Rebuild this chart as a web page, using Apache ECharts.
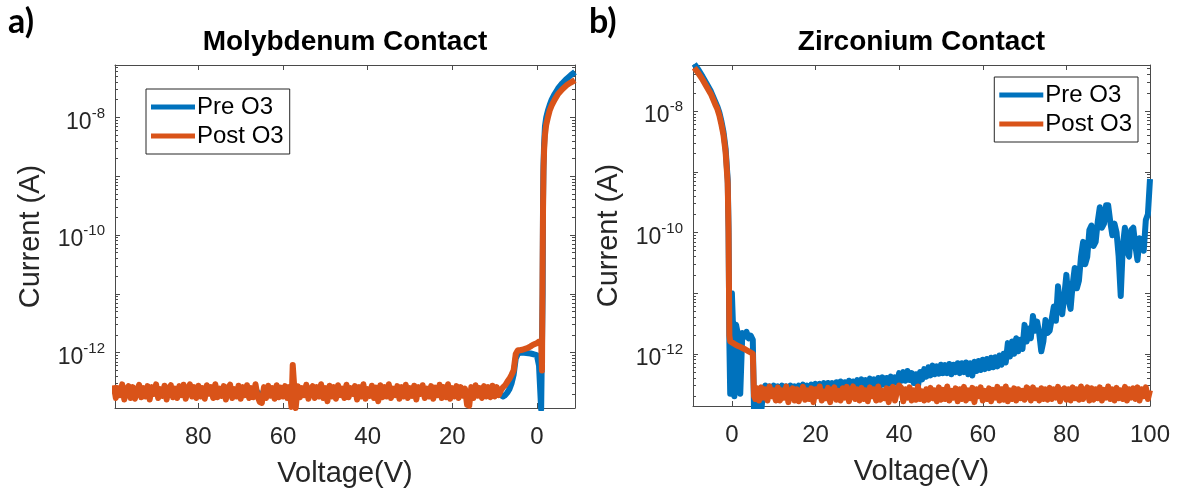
<!DOCTYPE html>
<html>
<head>
<meta charset="utf-8">
<script src="https://cdn.jsdelivr.net/npm/echarts@6/dist/echarts.min.js"></script>
<style>
  html, body { margin: 0; padding: 0; background: #fff; }
  #chart { width: 1178px; height: 493px; }
</style>
</head>
<body>
<div id="chart"></div>
<script>
// currents are in pA, voltages in V

// a) Molybdenum contact, sweep 100 -> -9 V
const moVolt = [100, 99.5, 99, 98.5, 98, 97.5, 97, 96.5, 96, 95.5,
  95, 94.5, 94, 93.5, 93, 92.5, 92, 91.5, 91, 90.5,
  90, 89.5, 89, 88.5, 88, 87.5, 87, 86.5, 86, 85.5,
  85, 84.5, 84, 83.5, 83, 82.5, 82, 81.5, 81, 80.5,
  80, 79.5, 79, 78.5, 78, 77.5, 77, 76.5, 76, 75.5,
  75, 74.5, 74, 73.5, 73, 72.5, 72, 71.5, 71, 70.5,
  70, 69.5, 69, 68.5, 68, 67.5, 67, 66.5, 66, 65.5,
  65, 64.5, 64, 63.5, 63, 62.5, 62, 61.5, 61, 60.5,
  60, 59.5, 59, 58.5, 58, 57.7, 57.3, 57, 56.5, 56,
  55.5, 55, 54.5, 54, 53.5, 53, 52.5, 52, 51.5, 51,
  50.5, 50, 49.5, 49, 48.5, 48, 47.5, 47, 46.5, 46,
  45.5, 45, 44.5, 44, 43.5, 43, 42.5, 42, 41.5, 41,
  40.5, 40, 39.5, 39, 38.5, 38, 37.5, 37, 36.5, 36,
  35.5, 35, 34.5, 34, 33.5, 33, 32.5, 32, 31.5, 31,
  30.5, 30, 29.5, 29, 28.5, 28, 27.5, 27, 26.5, 26,
  25.5, 25, 24.5, 24, 23.5, 23, 22.5, 22, 21.5, 21,
  20.5, 20, 19.5, 19, 18.5, 18, 17.5, 17, 16.5, 16,
  15.5, 15, 14.5, 14, 13.5, 13, 12.5, 12, 11.5, 11,
  10.5, 10, 9.5, 9, 8.5, 8, 7.5, 7, 6.5, 6,
  5.5, 5, 4.5, 4, 3.5, 3, 2.5, 2, 1.5, 1,
  0.5, 0, -0.5, -1, -1.2, -1.35, -1.45, -1.55, -1.7, -1.9,
  -2.2, -2.6, -3, -3.5, -4.2, -5, -6, -7, -8, -9]

const moPre = [0.24, 0.2, 0.23, 0.21, 0.24, 0.19, 0.23, 0.22, 0.2, 0.24,
  0.2, 0.23, 0.24, 0.2, 0.22, 0.21, 0.24, 0.19, 0.23, 0.21,
  0.24, 0.2, 0.22, 0.21, 0.24, 0.19, 0.23, 0.24, 0.2, 0.22,
  0.2, 0.24, 0.21, 0.23, 0.19, 0.22, 0.24, 0.2, 0.23, 0.2,
  0.24, 0.2, 0.22, 0.19, 0.24, 0.21, 0.23, 0.2, 0.24, 0.2,
  0.22, 0.21, 0.24, 0.19, 0.23, 0.24, 0.2, 0.22, 0.21, 0.24,
  0.2, 0.23, 0.21, 0.24, 0.2, 0.22, 0.2, 0.24, 0.21, 0.19,
  0.19, 0.23, 0.2, 0.24, 0.21, 0.22, 0.2, 0.24, 0.2, 0.23,
  0.21, 0.24, 0.2, 0.23, 0.2, 0.22, 0.22, 0.2, 0.24, 0.2,
  0.22, 0.21, 0.24, 0.2, 0.22, 0.24, 0.2, 0.23, 0.21, 0.24,
  0.2, 0.22, 0.19, 0.24, 0.21, 0.23, 0.2, 0.24, 0.21, 0.22,
  0.2, 0.24, 0.2, 0.22, 0.21, 0.24, 0.19, 0.23, 0.21, 0.24,
  0.2, 0.22, 0.21, 0.24, 0.2, 0.23, 0.19, 0.24, 0.2, 0.23,
  0.21, 0.24, 0.2, 0.22, 0.21, 0.24, 0.2, 0.23, 0.21, 0.24,
  0.2, 0.22, 0.21, 0.24, 0.19, 0.23, 0.21, 0.24, 0.2, 0.22,
  0.21, 0.24, 0.2, 0.23, 0.21, 0.24, 0.2, 0.23, 0.2, 0.24,
  0.2, 0.22, 0.21, 0.24, 0.2, 0.23, 0.21, 0.22, 0.2, 0.19,
  0.23, 0.2, 0.24, 0.21, 0.22, 0.2, 0.24, 0.21, 0.23, 0.2,
  0.24, 0.2, 0.23, 0.2, 0.19, 0.18, 0.19, 0.21, 0.24, 0.3,
  0.42, 0.8, 0.95, 1.0, 1.0, 1.0, 0.99, 0.98, 0.97, 0.95,
  0.93, 0.9, 0.6, 0.11, 0.11, 10, 400, 1500, 3500, 7000,
  10000, 13000, 16000, 20000, 25000, 31000, 38000, 45000, 52000, 59000]

const moPost = [0.28, 0.17, 0.25, 0.19, 0.29, 0.16, 0.24, 0.27, 0.17, 0.26,
  0.165, 0.23, 0.285, 0.175, 0.25, 0.18, 0.27, 0.16, 0.26, 0.2,
  0.29, 0.17, 0.24, 0.185, 0.275, 0.16, 0.25, 0.28, 0.175, 0.245,
  0.17, 0.27, 0.19, 0.285, 0.165, 0.235, 0.29, 0.18, 0.26, 0.17,
  0.275, 0.18, 0.25, 0.165, 0.28, 0.2, 0.26, 0.17, 0.29, 0.175,
  0.245, 0.185, 0.27, 0.16, 0.255, 0.285, 0.17, 0.24, 0.18, 0.275,
  0.165, 0.26, 0.19, 0.28, 0.17, 0.25, 0.175, 0.29, 0.18, 0.145,
  0.14, 0.26, 0.17, 0.275, 0.185, 0.25, 0.165, 0.28, 0.175, 0.255,
  0.18, 0.27, 0.17, 0.26, 0.12, 0.62, 0.58, 0.115, 0.27, 0.175,
  0.25, 0.19, 0.285, 0.165, 0.24, 0.27, 0.17, 0.26, 0.18, 0.29,
  0.17, 0.25, 0.15, 0.275, 0.18, 0.26, 0.165, 0.28, 0.19, 0.245,
  0.17, 0.285, 0.175, 0.25, 0.2, 0.27, 0.16, 0.26, 0.18, 0.29,
  0.165, 0.24, 0.185, 0.275, 0.17, 0.255, 0.15, 0.28, 0.175, 0.26,
  0.18, 0.29, 0.17, 0.245, 0.19, 0.27, 0.165, 0.26, 0.18, 0.285,
  0.17, 0.25, 0.185, 0.275, 0.16, 0.26, 0.2, 0.28, 0.17, 0.245,
  0.18, 0.27, 0.165, 0.255, 0.19, 0.285, 0.17, 0.26, 0.175, 0.29,
  0.165, 0.25, 0.18, 0.27, 0.17, 0.26, 0.185, 0.245, 0.13, 0.125,
  0.26, 0.17, 0.28, 0.185, 0.25, 0.17, 0.27, 0.18, 0.26, 0.175,
  0.275, 0.18, 0.26, 0.19, 0.23, 0.26, 0.28, 0.32, 0.36, 0.42,
  0.5, 0.95, 1.1, 1.1, 1.12, 1.15, 1.18, 1.22, 1.28, 1.35,
  1.4, 1.45, 1.55, 1.6, 0.5, 30, 300, 1200, 2800, 5000,
  7500, 10000, 13000, 16000, 20000, 25000, 30000, 35000, 39000, 43000]

// b) Zirconium contact, sweep -9 -> 100 V
const zrVolt = [-9, -8, -7, -6, -5, -4, -3.5, -3, -2.5, -2,
  -1.5, -1, -0.8, -0.6, -0.4, -0.2, 0, 0.3, 0.6, 1,
  1.5, 2, 2.5, 3, 3.5, 4, 4.5, 5, 5.3, 5.6,
  6, 6.5, 7, 7.5, 8, 8.5, 9, 9.5, 10, 10.5,
  11, 11.5, 12, 12.5, 13, 13.5, 14, 14.5, 15, 15.5,
  16, 16.5, 17, 17.5, 18, 18.5, 19, 19.5, 20, 20.5,
  21, 21.5, 22, 22.5, 23, 23.5, 24, 24.5, 25, 25.5,
  26, 26.5, 27, 27.5, 28, 28.5, 29, 29.5, 30, 30.5,
  31, 31.5, 32, 32.5, 33, 33.5, 34, 34.5, 35, 35.5,
  36, 36.5, 37, 37.5, 38, 38.5, 39, 39.5, 40, 40.5,
  41, 41.5, 42, 42.5, 43, 43.5, 44, 44.5, 45, 45.5,
  46, 46.5, 47, 47.5, 48, 48.5, 49, 49.5, 50, 50.5,
  51, 51.5, 52, 52.5, 53, 53.5, 54, 54.5, 55, 55.5,
  56, 56.5, 57, 57.5, 58, 58.5, 59, 59.5, 60, 60.5,
  61, 61.5, 62, 62.5, 63, 63.5, 64, 64.5, 65, 65.5,
  66, 66.5, 67, 67.5, 68, 68.5, 69, 69.5, 70, 70.5,
  71, 71.5, 72, 72.5, 73, 73.5, 74, 74.5, 75, 75.5,
  76, 76.5, 77, 77.5, 78, 78.5, 79, 79.5, 80, 80.5,
  81, 81.5, 82, 82.5, 83, 83.5, 84, 84.5, 85, 85.5,
  86, 86.5, 87, 87.5, 88, 88.5, 89, 89.5, 90, 90.5,
  91, 91.5, 92, 92.5, 93, 93.5, 94, 94.5, 95, 95.5,
  96, 96.5, 97, 97.5, 98, 98.5, 99, 99.5, 100]

const zrPre = [60000, 48000, 37000, 28000, 21000, 14500, 12000, 9500, 6800, 4500,
  2400, 750, 120, 1.5, 0.22, 1.3, 10, 2.5, 0.2, 3.0,
  2.0, 0.22, 2.2, 1.9, 2.3, 1.8, 2.0, 1.7, 0.11, 0.25,
  0.11, 0.12, 0.11, 0.25, 0.3, 0.22, 0.29, 0.23, 0.3, 0.22,
  0.29, 0.23, 0.3, 0.22, 0.29, 0.24, 0.3, 0.22, 0.29, 0.23,
  0.3, 0.24, 0.31, 0.23, 0.3, 0.24, 0.31, 0.23, 0.32, 0.25,
  0.32, 0.25, 0.33, 0.24, 0.33, 0.25, 0.33, 0.26, 0.34, 0.26,
  0.35, 0.26, 0.34, 0.27, 0.36, 0.27, 0.35, 0.28, 0.37, 0.28,
  0.38, 0.28, 0.37, 0.29, 0.39, 0.29, 0.38, 0.3, 0.4, 0.3,
  0.41, 0.31, 0.4, 0.32, 0.42, 0.32, 0.41, 0.33, 0.48, 0.36,
  0.5, 0.36, 0.52, 0.37, 0.48, 0.33, 0.46, 0.29, 0.5, 0.38,
  0.56, 0.42, 0.6, 0.44, 0.64, 0.46, 0.62, 0.47, 0.66, 0.48,
  0.65, 0.48, 0.68, 0.46, 0.66, 0.5, 0.7, 0.48, 0.7, 0.5,
  0.72, 0.46, 0.7, 0.44, 0.74, 0.52, 0.76, 0.54, 0.8, 0.56,
  0.82, 0.58, 0.86, 0.6, 0.88, 0.62, 0.94, 0.66, 1.0, 0.72,
  1.5, 0.9, 1.6, 1.0, 1.8, 1.1, 1.7, 1.2, 3.0, 1.6,
  2.6, 1.8, 4.2, 2.4, 3.4, 2.2, 1.1, 1.6, 3.6, 2.2,
  2.4, 3.8, 6.0, 3.5, 13, 6.0, 4.5, 9.0, 20, 8.0,
  5.5, 14, 26, 12, 16, 40, 70, 30, 40, 110,
  130, 60, 70, 150, 260, 120, 140, 280, 280, 150,
  90, 140, 100, 40, 9.0, 60, 120, 50, 40, 110,
  120, 60, 35, 80, 60, 50, 160, 200, 760]

const zrPost = [52000, 42000, 33000, 25000, 19000, 13000, 11000, 8500, 6000, 4000,
  2100, 650, 100, 2.0, 1.6, 1.58, 1.55, 1.5, 1.45, 1.4,
  1.35, 1.3, 1.25, 1.2, 1.15, 1.1, 1.05, 1.0, 0.2, 0.18,
  0.27, 0.17, 0.28, 0.19, 0.26, 0.17, 0.29, 0.2, 0.25, 0.17,
  0.28, 0.17, 0.25, 0.19, 0.29, 0.16, 0.24, 0.27, 0.17, 0.26,
  0.165, 0.23, 0.285, 0.175, 0.25, 0.18, 0.27, 0.16, 0.26, 0.2,
  0.29, 0.17, 0.24, 0.185, 0.275, 0.16, 0.25, 0.28, 0.175, 0.245,
  0.17, 0.27, 0.19, 0.285, 0.165, 0.235, 0.29, 0.18, 0.26, 0.17,
  0.275, 0.18, 0.25, 0.165, 0.28, 0.2, 0.26, 0.17, 0.29, 0.175,
  0.245, 0.185, 0.27, 0.16, 0.255, 0.285, 0.17, 0.24, 0.3, 0.275,
  0.165, 0.26, 0.19, 0.28, 0.17, 0.25, 0.175, 0.29, 0.18, 0.24,
  0.17, 0.26, 0.175, 0.275, 0.185, 0.25, 0.165, 0.28, 0.175, 0.255,
  0.18, 0.29, 0.17, 0.245, 0.19, 0.27, 0.165, 0.26, 0.18, 0.285,
  0.17, 0.25, 0.185, 0.275, 0.16, 0.26, 0.2, 0.28, 0.17, 0.245,
  0.18, 0.27, 0.165, 0.255, 0.19, 0.285, 0.17, 0.26, 0.175, 0.29,
  0.165, 0.25, 0.18, 0.27, 0.17, 0.26, 0.185, 0.245, 0.175, 0.28,
  0.26, 0.17, 0.28, 0.185, 0.25, 0.17, 0.27, 0.18, 0.26, 0.175,
  0.275, 0.18, 0.26, 0.19, 0.285, 0.165, 0.25, 0.27, 0.175, 0.26,
  0.17, 0.28, 0.185, 0.26, 0.175, 0.29, 0.18, 0.25, 0.28, 0.17,
  0.27, 0.175, 0.26, 0.185, 0.28, 0.17, 0.255, 0.19, 0.29, 0.18,
  0.26, 0.17, 0.275, 0.185, 0.25, 0.18, 0.285, 0.17, 0.26, 0.19,
  0.27, 0.18, 0.28, 0.17, 0.26, 0.2, 0.28, 0.18, 0.25]

const seriesNames = ['Pre O3', 'Post O3']
const seriesColors = ['#0072BD', '#D95319']
const moXTicks = [0, 20, 40, 60, 80]
const zrXTicks = [0, 20, 40, 60, 80, 100]
const decadeLabels = [-12, -10, -8]

// y axes work in log10(A)
const moYRange = [-12.94, -7.11]
const zrYRange = [-12.86, -7.24]
const moXRange = [-9, 99.7]
const zrXRange = [-9.3, 100]

const gridA = { left: 115, top: 65, width: 460, height: 343 }
const gridB = { left: 693, top: 65, width: 457, height: 341 }

const FONT = 'Liberation Sans'
const INK = '#262626'
const BOX = '#4a4a4a'

function toPoints(volts, pA) {
  return volts.map((v, i) => [v, Math.log10(pA[i] * 1e-12)])
}

// minor log ticks at 2..9 x 10^n
function minorTicks(range) {
  const out = []
  for (let n = Math.floor(range[0]); n < Math.ceil(range[1]); n++) {
    for (let k = 2; k <= 9; k++) {
      const v = n + Math.log10(k)
      if (v > range[0] && v < range[1]) out.push(v)
    }
  }
  return out
}

function majorTicks(range) {
  const out = []
  for (let n = Math.ceil(range[0]); n <= Math.floor(range[1]); n++) out.push(n)
  return out
}

function xAxes(gridIndex, range, ticks, inverse) {
  const base = {
    type: 'value', gridIndex, min: range[0], max: range[1], inverse,
    splitLine: { show: false },
    axisLine: { show: true, onZero: false, lineStyle: { color: BOX, width: 1 } }
  }
  return [
    {
      ...base, position: 'bottom',
      name: 'Voltage(V)', nameLocation: 'middle', nameGap: 51,
      nameTextStyle: { fontFamily: FONT, fontSize: 29, color: INK },
      axisTick: { show: true, inside: true, length: 5, customValues: ticks, lineStyle: { color: BOX } },
      axisLabel: { show: true, customValues: ticks, margin: 17, fontFamily: FONT, fontSize: 24, color: INK }
    },
    {
      ...base, position: 'top',
      axisTick: { show: true, inside: true, length: 5, customValues: ticks, lineStyle: { color: BOX } },
      axisLabel: { show: false }
    }
  ]
}

function yAxes(gridIndex, range) {
  const base = {
    type: 'value', gridIndex, min: range[0], max: range[1],
    splitLine: { show: false }
  }
  const majors = majorTicks(range)
  const minors = minorTicks(range)
  return [
    {
      ...base, position: 'left',
      name: 'Current (A)', nameLocation: 'middle', nameGap: 70,
      nameTextStyle: { fontFamily: FONT, fontSize: 29, color: INK },
      axisLine: { show: true, onZero: false, lineStyle: { color: BOX, width: 1 } },
      axisTick: { show: true, inside: true, length: 5, customValues: majors, lineStyle: { color: BOX } },
      axisLabel: {
        show: true, customValues: decadeLabels, margin: 10,
        formatter: v => '{b|10}{s|' + v + '}',
        rich: {
          b: { fontFamily: FONT, fontSize: 23, color: INK, padding: [10, 0, 0, 0] },
          s: { fontFamily: FONT, fontSize: 15, color: INK, padding: [0, 0, 8, 0] }
        }
      }
    },
    {
      ...base, position: 'left',
      axisLine: { show: false, onZero: false },
      axisTick: { show: true, inside: true, length: 3, customValues: minors, lineStyle: { color: BOX } },
      axisLabel: { show: false }
    },
    {
      ...base, position: 'right',
      axisLine: { show: true, onZero: false, lineStyle: { color: BOX, width: 1 } },
      axisTick: { show: true, inside: true, length: 5, customValues: majors, lineStyle: { color: BOX } },
      axisLabel: { show: false }
    },
    {
      ...base, position: 'right',
      axisLine: { show: false, onZero: false },
      axisTick: { show: true, inside: true, length: 3, customValues: minors, lineStyle: { color: BOX } },
      axisLabel: { show: false }
    }
  ]
}

function lineSeries(name, color, points, xAxisIndex, yAxisIndex) {
  return {
    name, type: 'line', data: points, xAxisIndex, yAxisIndex,
    showSymbol: false, symbol: 'none', clip: true,
    lineStyle: { color, width: 6, join: 'round' },
    itemStyle: { color },
    emphasis: { disabled: true },
    z: name === 'Post O3' ? 3 : 2
  }
}

function legendAt(pos) {
  return {
    ...pos, orient: 'vertical', data: seriesNames,
    icon: 'rect', itemWidth: 44, itemHeight: 5, itemGap: 5,
    padding: [6, 6, 6, 5],
    borderColor: INK, borderWidth: 1, backgroundColor: '#fff',
    textStyle: { fontFamily: FONT, fontSize: 24, color: '#000', padding: [0, 0, 0, -3] },
    selectedMode: false
  }
}

const chart = echarts.init(document.getElementById('chart'), null, { renderer: 'canvas' })

const titleStyle = { fontFamily: FONT, fontWeight: 'bold', fontSize: 28, color: '#000' }
const panelLabel = { fontFamily: 'Lato', fontWeight: 'bold', fontSize: 34, color: '#000' }

chart.setOption({
  animation: false,
  backgroundColor: '#fff',
  color: seriesColors,
  title: [
    { text: 'a)', left: 8, top: 5, textStyle: panelLabel, padding: 0 },
    { text: 'b)', left: 589, top: 5, textStyle: panelLabel, padding: 0 },
    { text: 'Molybdenum Contact', left: gridA.left + gridA.width / 2, textAlign: 'center', top: 28, textStyle: titleStyle, padding: 0 },
    { text: 'Zirconium Contact', left: gridB.left + gridB.width / 2, textAlign: 'center', top: 28, textStyle: titleStyle, padding: 0 }
  ],
  legend: [
    legendAt({ left: gridA.left + 31, top: 89 }),
    legendAt({ right: 1178 - gridB.left - gridB.width + 12, top: 77 })
  ],
  grid: [
    { ...gridA, containLabel: false, outerBoundsMode: 'none' },
    { ...gridB, containLabel: false, outerBoundsMode: 'none' }
  ],
  xAxis: [
    ...xAxes(0, moXRange, moXTicks, true),
    ...xAxes(1, zrXRange, zrXTicks, false)
  ],
  yAxis: [
    ...yAxes(0, moYRange),
    ...yAxes(1, zrYRange)
  ],
  series: [
    lineSeries(seriesNames[0], seriesColors[0], toPoints(moVolt, moPre), 0, 0),
    lineSeries(seriesNames[1], seriesColors[1], toPoints(moVolt, moPost), 0, 0),
    lineSeries(seriesNames[0], seriesColors[0], toPoints(zrVolt, zrPre), 2, 4),
    lineSeries(seriesNames[1], seriesColors[1], toPoints(zrVolt, zrPost), 2, 4)
  ]
})

window.addEventListener('resize', () => {
  chart.resize()
})
</script>
</body>
</html>
